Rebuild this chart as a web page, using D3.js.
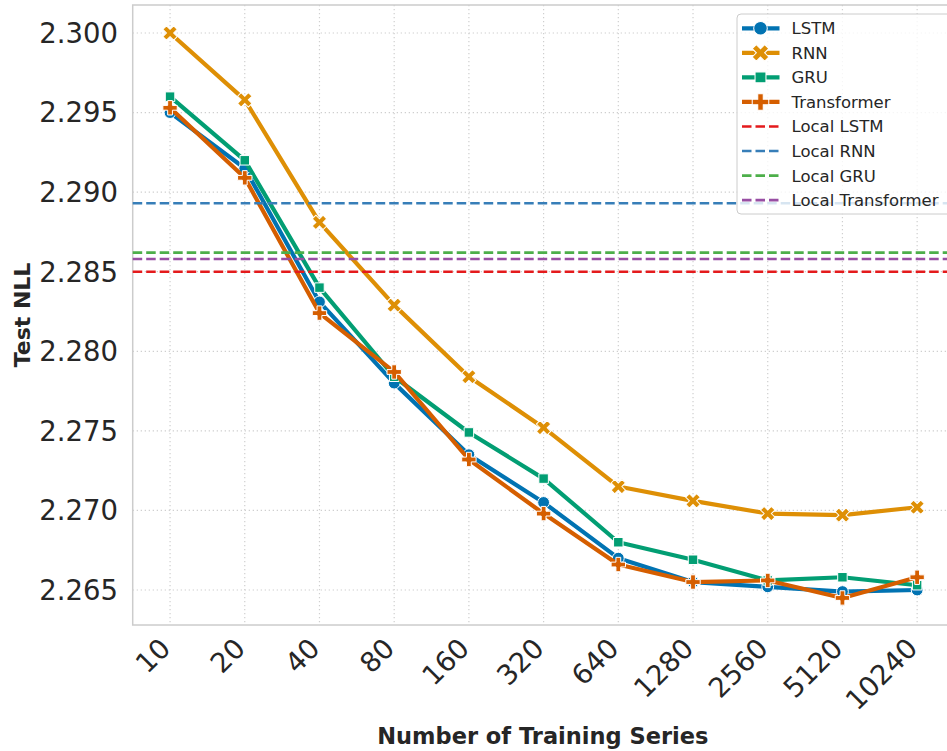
<!DOCTYPE html>
<html>
<head>
<meta charset="utf-8">
<script src="https://cdn.jsdelivr.net/npm/d3@7"></script>
<style>
  body { margin: 0; background: #fff; }
  svg { display: block; font-family: "DejaVu Sans", sans-serif; }
</style>
</head>
<body>
<svg id="chart" width="947" height="751"></svg>
<script>
// data
const categories = ["10", "20", "40", "80", "160", "320", "640", "1280", "2560", "5120", "10240"];
const lstm        = [2.2950, 2.2915, 2.2831, 2.2780, 2.2735, 2.2705, 2.2670, 2.2655, 2.2652, 2.2649, 2.2650];
const rnn         = [2.3000, 2.2958, 2.2881, 2.2829, 2.2784, 2.2752, 2.2715, 2.2706, 2.2698, 2.2697, 2.2702];
const gru         = [2.2960, 2.2920, 2.2840, 2.2784, 2.2749, 2.2720, 2.2680, 2.2669, 2.2656, 2.2658, 2.2653];
const transformer = [2.2953, 2.2909, 2.2824, 2.2787, 2.2732, 2.2698, 2.2666, 2.2655, 2.2656, 2.2645, 2.2658];
const localNames  = ["Local LSTM", "Local RNN", "Local GRU", "Local Transformer"];
const localValues = [2.2850, 2.2893, 2.2862, 2.2858];
const yTicks      = [2.265, 2.270, 2.275, 2.280, 2.285, 2.290, 2.295, 2.300];

const series = [
  {name: "LSTM", values: lstm, color: "#0173b2", marker: "circle"},
  {name: "RNN", values: rnn, color: "#de8f05", marker: "x"},
  {name: "GRU", values: gru, color: "#029e73", marker: "square"},
  {name: "Transformer", values: transformer, color: "#d55e00", marker: "plus"}
];
const localColors = ["#e41a1c", "#377eb8", "#4daf4a", "#984ea3"];

const svg = d3.select("#chart");
const pLeft = 132.7, pRight = 954.5, pTop = 5, pBottom = 625;
const textColor = "#262626";

const x = d3.scalePoint().domain(categories).range([pLeft, pRight]).padding(0.5);
const y = d3.scaleLinear().domain([2.2628, 2.30176]).range([pBottom, pTop]);

// grid
const grid = svg.append("g").attr("stroke", "#cfcfcf").attr("stroke-width", 1.2).attr("stroke-dasharray", "1.3,2.7");
grid.selectAll(".gx").data(categories).enter().append("line")
  .attr("x1", d => x(d)).attr("x2", d => x(d)).attr("y1", pTop).attr("y2", pBottom);
grid.selectAll(".gy").data(yTicks).enter().append("line")
  .attr("x1", pLeft).attr("x2", pRight).attr("y1", d => y(d)).attr("y2", d => y(d));

// spines
svg.append("rect")
  .attr("x", pLeft).attr("y", pTop).attr("width", pRight - pLeft).attr("height", pBottom - pTop)
  .attr("fill", "none").attr("stroke", "#cccccc").attr("stroke-width", 1.5);

// y tick labels
svg.append("g").selectAll("text").data(yTicks).enter().append("text")
  .attr("x", 118).attr("y", d => y(d)).attr("dy", "0.36em")
  .attr("text-anchor", "end").attr("font-size", 27.5).attr("fill", textColor)
  .text(d3.format(".3f"));

// x tick labels
svg.append("g").selectAll("text").data(categories).enter().append("text")
  .attr("transform", d => `translate(${x(d) + 2},${pBottom + 25}) rotate(-45)`)
  .attr("text-anchor", "end").attr("font-size", 27.5).attr("fill", textColor)
  .text(d => d);

// axis titles
svg.append("text")
  .attr("transform", `translate(30,${(pTop + pBottom) / 2}) rotate(-90)`)
  .attr("text-anchor", "middle").attr("font-size", 22).attr("font-weight", "bold").attr("fill", textColor)
  .text("Test NLL");
svg.append("text")
  .attr("x", (pLeft + 947) / 2 + 3).attr("y", 744)
  .attr("text-anchor", "middle").attr("font-size", 22.5).attr("font-weight", "bold").attr("fill", textColor)
  .text("Number of Training Series");

function markerPath(kind) {
  if (kind === "circle") return d3.symbol(d3.symbolCircle, 110)();
  if (kind === "square") return d3.symbol(d3.symbolSquare, 90)();
  if (kind === "plus") return d3.symbol(d3.symbolCross, 115)();
  return d3.symbol(d3.symbolCross, 130)();
}

const line = d3.line().x((d, i) => x(categories[i])).y(d => y(d));

// series lines with markers
series.forEach(s => {
  const g = svg.append("g");
  g.append("path").datum(s.values)
    .attr("d", line).attr("fill", "none")
    .attr("stroke", s.color).attr("stroke-width", 4.2).attr("stroke-linejoin", "round");
  g.selectAll("path.m").data(s.values).enter().append("path")
    .attr("class", "m")
    .attr("d", markerPath(s.marker))
    .attr("transform", (d, i) => `translate(${x(categories[i])},${y(d)})` + (s.marker === "x" ? " rotate(45)" : ""))
    .attr("fill", s.color).attr("stroke", "#fff").attr("stroke-width", 1);
});

// local baselines
svg.append("g").selectAll("line").data(localValues).enter().append("line")
  .attr("x1", pLeft).attr("x2", pRight)
  .attr("y1", d => y(d)).attr("y2", d => y(d))
  .attr("stroke", (d, i) => localColors[i]).attr("stroke-width", 2.6)
  .attr("stroke-dasharray", "9.5,4");

// legend
const legend = svg.append("g").attr("transform", "translate(737,14)");
legend.append("rect")
  .attr("width", 215).attr("height", 200).attr("rx", 4)
  .attr("fill", "#fff").attr("fill-opacity", 0.8)
  .attr("stroke", "#cccccc").attr("stroke-width", 1);

const entries = series.map(s => ({name: s.name, color: s.color, marker: s.marker}))
  .concat(localNames.map((n, i) => ({name: n, color: localColors[i], marker: null})));

const rows = legend.selectAll("g.row").data(entries).enter().append("g")
  .attr("transform", (d, i) => `translate(0,${14.3 + i * 24.55})`);
rows.append("line")
  .attr("x1", 5).attr("x2", 42.5)
  .attr("stroke", d => d.color)
  .attr("stroke-width", d => d.marker ? 4.2 : 2.6)
  .attr("stroke-dasharray", d => d.marker ? null : "9.5,4");
rows.filter(d => d.marker).append("path")
  .attr("d", d => markerPath(d.marker))
  .attr("transform", d => "translate(23.5,0) scale(1.15)" + (d.marker === "x" ? " rotate(45)" : ""))
  .attr("fill", d => d.color).attr("stroke", "#fff").attr("stroke-width", 0.9);
rows.append("text")
  .attr("x", 54.5).attr("dy", "0.36em")
  .attr("font-size", 16.5).attr("fill", textColor)
  .text(d => d.name);
</script>
</body>
</html>
